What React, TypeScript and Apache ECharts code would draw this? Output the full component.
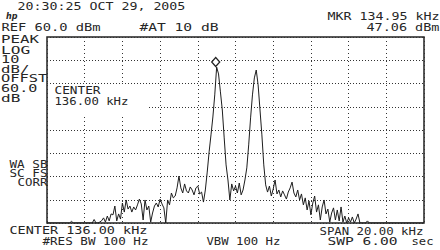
import React, { useEffect, useRef } from "react";
import * as echarts from "echarts";

// Sweep: 126.0 .. 146.0 kHz, 201 points (0.1 kHz per point)
const sweepStartKHz = 126;
const sweepStepKHz = 0.1;
const levelsDbm = [
  -20, -20, -20, -20, -20, -20, -20, -20, -20, -20, -20, -20, -20,
  -19.3,
  -20, -20, -20, -20, -20, -20, -20, -20, -20, -20, -20,
  -18.5, -20, -20, -19.6, -19, -17.8, -19.6, -17, -19.1, -16.1,
  -16.5, -12.7, -19.1, -16.1, -18.3, -11.4, -15.3, -10.1, -14, -12.7,
  -15.3, -13.1, -14.4, -12.2, -9.7, -11.8, -18.7, -10.1, -14.4, -12.7,
  -19.6, -15.7, -12.7, -11.4, -13.1, -9.7, -11.8, -13.5, -20, -10.1,
  -12.2, -7.1, -9.2, -8.4, -4.9, 0.2, -4.9, -7.1, -3.2, -6.2,
  -7.1, -4.5, -5.8, -7.9, -4.9, -4.1, -7.5, -6.7, -11, -5.8,
  1.9, 10.6, 17.9, 25.6, 35.1, 47.06, 44.1, 36.4, 28.6, 16.6,
  5, -1.5, -10.1, -3.2, -6.2, -4.1, -7.1, -2.8, -7.9, -5.8,
  -1.5, 3.7, 13.6, 25.2, 35.1, 42.4, 45.8, 39.4, 28.6, 17.9,
  5, -3.6, -6.7, -4.1, -8.4, -5.4, -1.5, -7.5, -5.8, -8.8,
  -6.2, -7.9, -9.7, -6.7, -4.9, -2.4, -7.1, -8.8, -5.8, -10.1,
  -7.5, -12.2, -9.2, -14.4, -10.5, -16.5, -11.4, -8.4, -15.3, -12.2,
  -18.7, -13.1, -10.1, -16.1, -14, -19.6, -15.7, -13.5, -18.7, -14.4,
  -19.1, -13.1, -19.6, -17, -20, -17.8, -19.6, -17.4, -20, -18.3,
  -16.1, -20, -20, -20, -20, -19.1,
  -20, -20, -20, -20, -20, -20, -20, -20, -20, -20,
  -20, -20, -20, -20, -20, -20, -20, -20, -20, -20,
  -20, -20, -20, -20, -20, -20, -20, -20, -20, -20,
];

const freqMinKHz = 126;
const freqMaxKHz = 146;
const freqDivKHz = 2;
const refLevelDbm = 60;
const bottomLevelDbm = -20;
const dbPerDiv = 10;

const markerFreqKHz = 134.95;
const markerLevelDbm = 47.06;

const textTimestamp = "20:30:25 OCT 29, 2005";
const textRef = "REF 60.0 dBm";
const textAtten = "#AT 10 dB";
const textMkrFreq = "MKR 134.95 kHz";
const textMkrLevel = "47.06 dBm";
const leftColumn = ["PEAK", "LOG", "10", "dB/", "OFFST", "60.0", "dB"];
const leftLower = ["WA SB", "SC FS", "CORR"];
const textCenterIn1 = "CENTER";
const textCenterIn2 = "136.00 kHz";
const textCenter = "CENTER 136.00 kHz";
const textRbw = "#RES BW 100 Hz";
const textVbw = "VBW 100 Hz";
const textSpan = "SPAN 20.00 kHz";
const textSwp = "SWP 6.00";
const textSec = "sec";

const FONT = '"DejaVu Sans Mono", monospace';
const INK = "#262626";

function lbl(text: string, xStart: number, yc: number, inkW: number, fs = 10) {
  const adv = 0.602 * fs;
  const base = (text.length - 1) * adv + 0.86 * adv;
  const s = inkW / base;
  return {
    type: "text",
    x: xStart - 0.07 * adv * s,
    y: yc,
    scaleX: s,
    z: 100,
    style: {
      text,
      fontFamily: FONT,
      fontSize: fs,
      fill: INK,
      textAlign: "left",
      textVerticalAlign: "middle",
    },
  };
}

export default function App() {
  const ref = useRef<HTMLDivElement>(null);
  useEffect(() => {
    if (!ref.current) return;
    const chart = echarts.init(ref.current, undefined, { renderer: "svg" });
    const trace = levelsDbm.map((v, i) => [
      +(sweepStartKHz + i * sweepStepKHz).toFixed(2),
      v,
    ]);
    const leftYs = [40, 49.8, 59.5, 69.2, 78.8, 88.6, 98.4];
    const leftWidths = [36.6, 28, 17, 27, 45, 35, 18];
    const lowerYs = [164.8, 173.6, 182.6];
    const lowerX = [10, 10, 18];
    const lowerW = [37, 37, 29];
    const graphics: any[] = [
      { type: "rect", z: 99, shape: { x: 48, y: 84, width: 100, height: 32 }, style: { fill: "#fff" } },
      lbl(textTimestamp, 18, 7, 167),
      {
        type: "text", x: 6, y: 16.5, z: 100,
        style: { text: "hp", fontFamily: "DejaVu Sans", fontSize: 8, fontStyle: "italic", fontWeight: "bold", fill: INK, textVerticalAlign: "middle" },
      },
      lbl(textRef, 2, 27.3, 98),
      lbl(textAtten, 140, 27.3, 78),
      lbl(textMkrFreq, 328, 16.7, 111),
      lbl(textMkrLevel, 367, 27.7, 72),
      ...leftColumn.map((t, i) => lbl(t, 1.7, leftYs[i], leftWidths[i])),
      ...leftLower.map((t, i) => lbl(t, lowerX[i], lowerYs[i], lowerW[i])),
      lbl(textCenterIn1, 55, 90.7, 45),
      lbl(textCenterIn2, 55, 102.3, 73),
      lbl(textCenter, 10, 231, 137),
      lbl(textRbw, 43, 241, 105),
      lbl(textVbw, 207, 241.7, 73),
      lbl(textSpan, 320, 232.3, 103),
      lbl(textSwp, 328, 241.7, 69),
      lbl(textSec, 412, 241.7, 21),
    ];
    chart.setOption({
      animation: false,
      backgroundColor: "#ffffff",
      grid: {
        left: 47, top: 37, right: 16, bottom: 27,
        show: true, borderColor: "#222", borderWidth: 1.5, backgroundColor: "transparent",
      },
      xAxis: {
        type: "value", min: freqMinKHz, max: freqMaxKHz, interval: freqDivKHz,
        axisLine: { show: false }, axisTick: { show: false }, axisLabel: { show: false },
        splitLine: { show: true, lineStyle: { color: "#333", width: 1, type: [1, 3] } },
      },
      yAxis: {
        type: "value", min: bottomLevelDbm, max: refLevelDbm, interval: dbPerDiv,
        axisLine: { show: false }, axisTick: { show: false }, axisLabel: { show: false },
        splitLine: { show: true, lineStyle: { color: "#333", width: 1, type: [1, 2] } },
      },
      series: [
        {
          type: "line",
          data: trace,
          showSymbol: false,
          symbol: "none",
          clip: true,
          lineStyle: { color: "#1e1e1e", width: 1 },
          markPoint: {
            symbol: "diamond",
            symbolSize: [8, 9],
            symbolOffset: [0, -5],
            label: { show: false },
            itemStyle: { color: "#fff", borderColor: "#222", borderWidth: 1.3 },
            data: [{ coord: [markerFreqKHz, markerLevelDbm] }],
          },
        },
      ],
      graphic: graphics,
    });
    return () => chart.dispose();
  }, []);
  return (
    <div
      ref={ref}
      style={{ position: "absolute", left: 0, top: 0, width: 440, height: 250, background: "#fff" }}
    />
  );
}
